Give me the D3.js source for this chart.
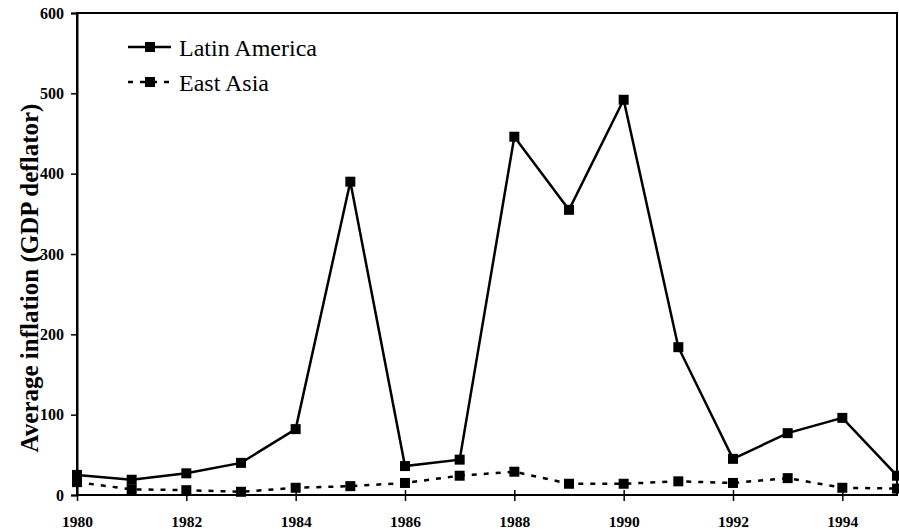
<!DOCTYPE html>
<html><head><meta charset="utf-8">
<script src="https://cdn.jsdelivr.net/npm/d3@7"></script>
<style>body{margin:0;background:#fff} svg text{font-family:"Liberation Serif","Times New Roman",Times,serif !important;}</style>
</head><body>
<svg id="c" width="899" height="529"></svg>
<script>
const years = [1980,1981,1982,1983,1984,1985,1986,1987,1988,1989,1990,1991,1992,1993,1994,1995];
const latinAmerica = [25,19,27,40,82,390,36,44,446,355,492,184,45,77,96,24];
const eastAsia = [16,7,6,4,9,11,15,24,29,14,14,17,15,21,9,8];
const yTicks = [0,100,200,300,400,500,600];
const xTicks = [1980,1982,1984,1986,1988,1990,1992,1994];
const seriesNames = ["Latin America","East Asia"];

const svg = d3.select("#c");
const m = {l:77, r:897, t:13, b:495};
const x = d3.scaleLinear().domain([1980,1995]).range([m.l,m.r]);
const y = d3.scaleLinear().domain([0,600]).range([m.b,m.t]);

// frame
svg.append("rect").attr("x",m.l).attr("y",m.t).attr("width",m.r-m.l).attr("height",m.b-m.t)
  .attr("fill","none").attr("stroke","#000").attr("stroke-width",2);

// y axis
const ya = svg.append("g").attr("transform",`translate(${m.l},0)`)
  .call(d3.axisLeft(y).tickValues(yTicks).tickSize(6).tickPadding(7).tickFormat(d3.format("d")));
ya.select(".domain").attr("stroke-width",2);
ya.selectAll("line").attr("stroke-width",1.5);
ya.selectAll("text").attr("font-weight","bold").attr("font-size",16).attr("fill","#000");

// x axis
const xa = svg.append("g").attr("transform",`translate(0,${m.b})`)
  .call(d3.axisBottom(x).tickValues(xTicks).tickSize(6).tickPadding(15).tickFormat(d3.format("d")));
xa.select(".domain").remove();
xa.selectAll("line").attr("y1",-5).attr("stroke-width",1.5);
xa.selectAll("text").attr("font-weight","bold").attr("font-size",15.5).attr("fill","#000");

// y title
svg.append("text").attr("transform",`translate(38,278) rotate(-90)`)
  .attr("text-anchor","middle").attr("font-weight","bold").attr("font-size",25)
  .text("Average inflation (GDP deflator)");

const line = d3.line().x((d,i)=>x(years[i])).y(d=>y(d));
const data = [latinAmerica, eastAsia];
const dashes = [null, "5,7"];
const widths = [2.5, 2.5];
data.forEach((s,k)=>{
  svg.append("path").datum(s).attr("d",line).attr("fill","none").attr("stroke","#000")
    .attr("stroke-width",widths[k]).attr("stroke-dasharray",dashes[k]);
  svg.selectAll(null).data(s).enter().append("rect")
    .attr("x",(d,i)=>x(years[i])-5).attr("y",d=>y(d)-5).attr("width",10).attr("height",10).attr("fill","#000");
});

// legend
const lg = svg.append("g");
seriesNames.forEach((n,k)=>{
  const ly = 47 + k*35;
  lg.append("line").attr("x1",128).attr("x2",171).attr("y1",ly).attr("y2",ly)
    .attr("stroke","#000").attr("stroke-width",widths[k]).attr("stroke-dasharray",dashes[k]);
  lg.append("rect").attr("x",145).attr("y",ly-5).attr("width",10).attr("height",10).attr("fill","#000");
  lg.append("text").attr("x",179).attr("y",ly+9).attr("font-size",24).text(n);
});
</script>
</body></html>
